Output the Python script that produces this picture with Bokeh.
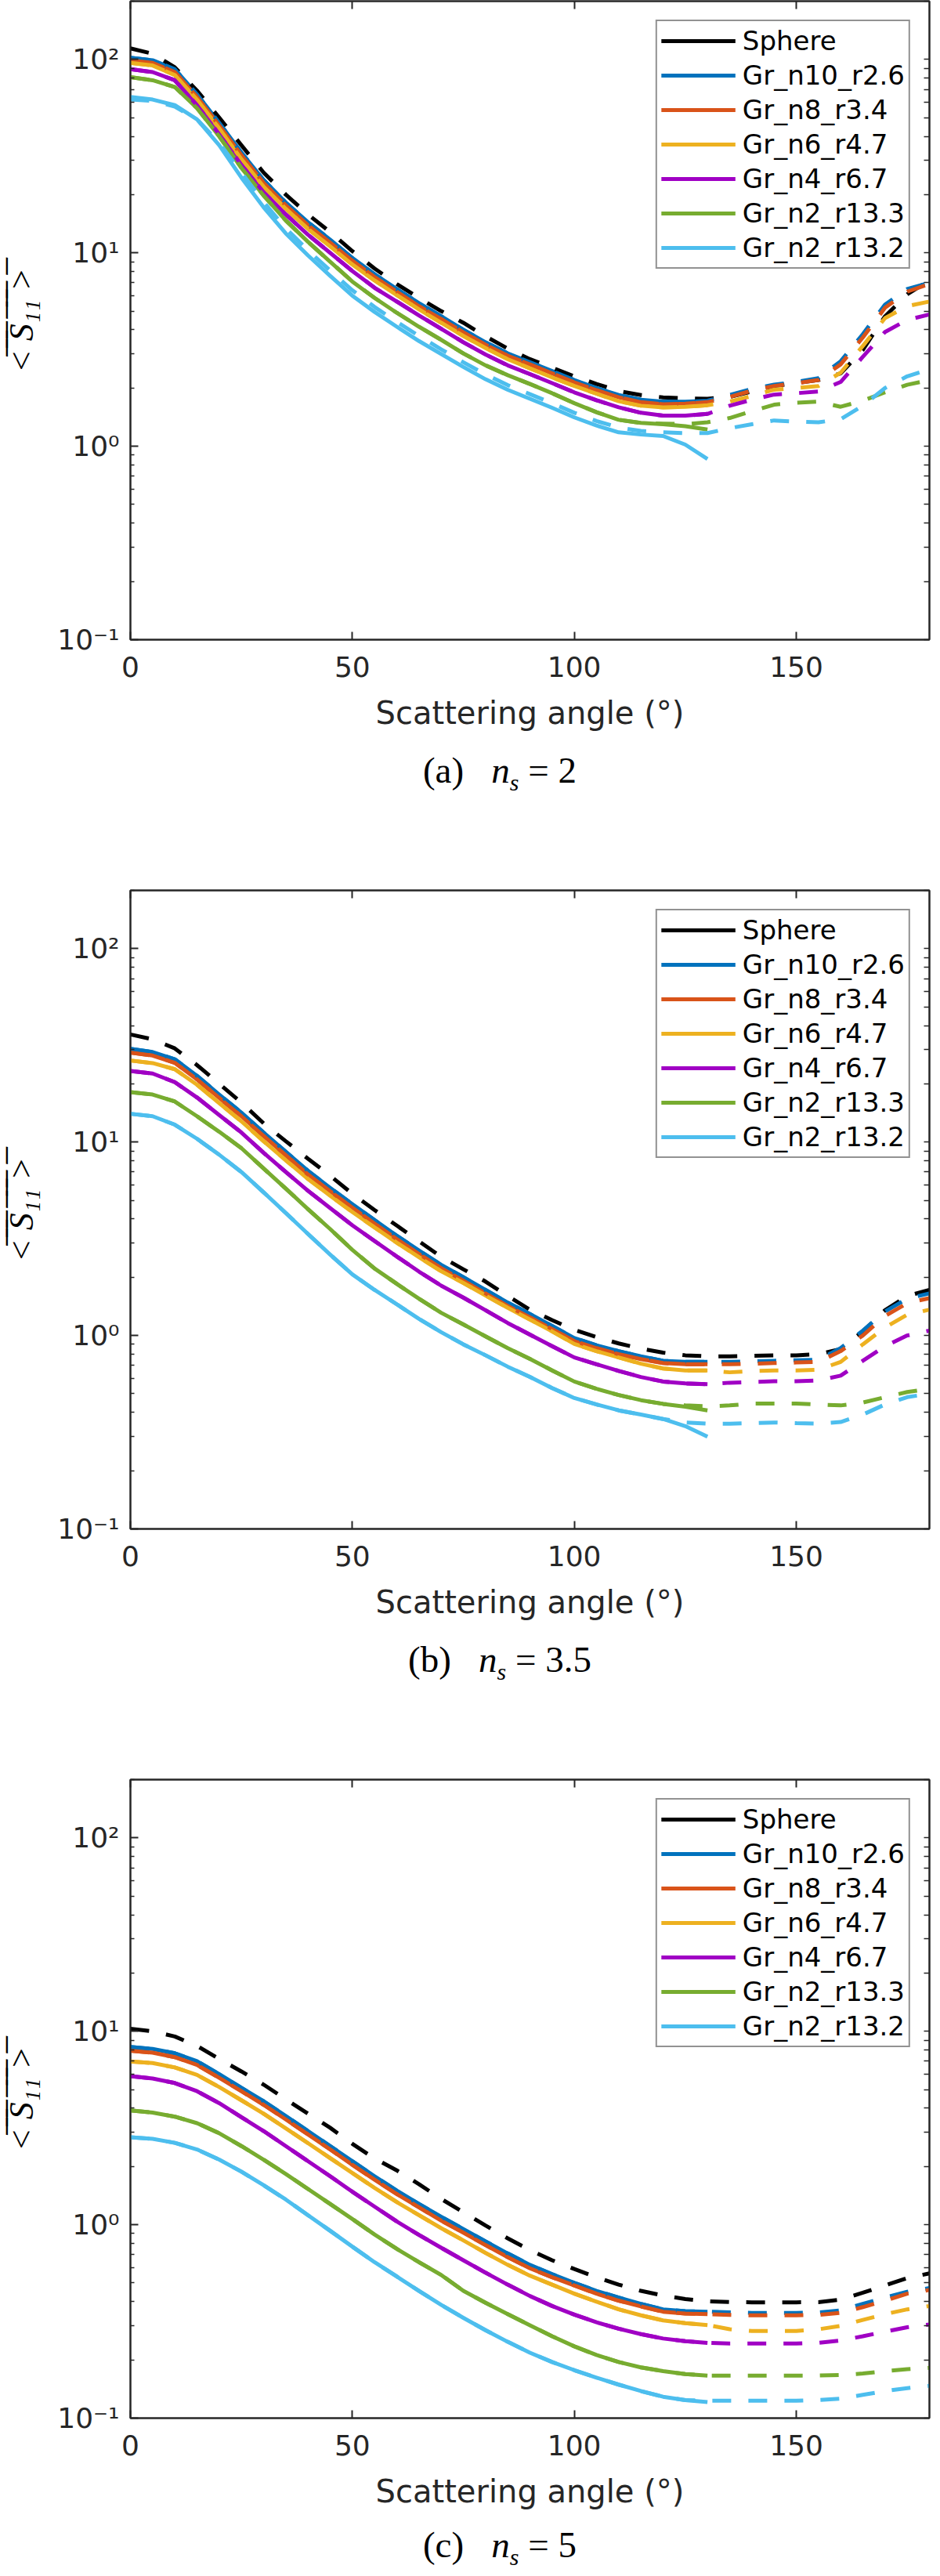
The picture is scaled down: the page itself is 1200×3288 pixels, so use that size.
from bokeh.plotting import figure
from bokeh.models import LinearAxis, LogAxis, FixedTicker, Legend, LegendItem, Range1d, Div
from bokeh.layouts import column
from bokeh.embed import file_html
from bokeh.resources import INLINE

# ---------------- data ----------------
ANGLES = [0, 5, 10, 15, 20, 25, 30, 35, 40, 45, 50, 55, 60, 65, 70, 75, 80, 85, 90,
          95, 100, 105, 110, 115, 120, 125, 130, 135, 140, 145, 150, 155, 160, 165,
          170, 175, 180]
SOLID_END = 130  # the solid curves stop here, the dashed ones go on to 180

SERIES = ["Sphere", "Gr_n10_r2.6", "Gr_n8_r3.4", "Gr_n6_r4.7", "Gr_n4_r6.7",
          "Gr_n2_r13.3", "Gr_n2_r13.2"]
COLORS = ["#000000", "#0072BD", "#D95319", "#EDB120", "#A000C4", "#77AC30", "#4DBEEE"]

X_TICKS = [0, 50, 100, 150]
Y_TICKS = [0.1, 1, 10, 100]
Y_TICK_LABELS = ["10\u207b\u00b9", "10\u2070", "10\u00b9", "10\u00b2"]
CAPTION_LETTERS = ["(a)", "(b)", "(c)"]
NS_VALUES = ["2", "3.5", "5"]

# panel (a)  n_s = 2   -- dashed curves 0..180
A_SPHERE = [114, 107, 91, 69, 50, 36, 26, 20, 15.8, 12.8, 10.2, 8.3, 6.9, 5.85, 5.0, 4.35, 3.7, 3.2, 2.82,
            2.55, 2.3, 2.1, 1.93, 1.84, 1.79, 1.77, 1.76, 1.80, 1.92, 2.05, 2.12, 2.2, 2.38, 3.15, 4.7, 6.1, 7.2]
A_N10 = [102, 99, 89, 66, 47, 33, 23.8, 18.2, 14.4, 11.7, 9.4, 7.75, 6.5, 5.5, 4.7, 4.0, 3.45, 3.02, 2.72,
         2.45, 2.2, 2.0, 1.84, 1.74, 1.70, 1.70, 1.72, 1.84, 1.98, 2.08, 2.15, 2.25, 2.75, 3.8, 5.4, 6.5, 7.0]
A_N8 = [99, 96, 86, 64, 45.5, 32, 23, 17.6, 13.9, 11.3, 9.1, 7.5, 6.3, 5.3, 4.55, 3.88, 3.35, 2.94, 2.65,
        2.38, 2.14, 1.95, 1.79, 1.69, 1.65, 1.66, 1.69, 1.80, 1.94, 2.05, 2.12, 2.2, 2.65, 3.65, 5.2, 6.3, 6.9]
A_N6 = [96, 93, 83, 62, 44, 30.5, 22, 16.9, 13.3, 10.8, 8.7, 7.2, 6.05, 5.1, 4.35, 3.72, 3.22, 2.82, 2.53,
        2.27, 2.05, 1.87, 1.71, 1.62, 1.59, 1.60, 1.63, 1.70, 1.82, 1.96, 2.0, 2.05, 2.4, 3.3, 4.6, 5.3, 5.6]
A_N4 = [89, 86, 78, 58, 41, 28.5, 20.6, 15.8, 12.4, 10.0, 8.05, 6.6, 5.6, 4.75, 4.05, 3.45, 2.98, 2.62, 2.36,
        2.12, 1.90, 1.73, 1.59, 1.49, 1.44, 1.44, 1.47, 1.62, 1.74, 1.85, 1.88, 1.92, 2.15, 2.9, 3.9, 4.5, 4.8]
A_N2A = [81, 78, 72, 56, 40, 27.5, 19.8, 14.7, 11.4, 9.0, 7.1, 5.85, 4.9, 4.15, 3.55, 3.02, 2.62, 2.33, 2.10,
         1.88, 1.67, 1.50, 1.37, 1.32, 1.31, 1.30, 1.33, 1.40, 1.52, 1.64, 1.68, 1.70, 1.60, 1.72, 1.90, 2.08, 2.2]
A_N2B = [62, 61, 57, 49, 37, 26, 18.3, 13.4, 10.3, 8.1, 6.4, 5.25, 4.4, 3.72, 3.17, 2.72, 2.35, 2.07, 1.86,
         1.67, 1.49, 1.35, 1.25, 1.20, 1.18, 1.17, 1.17, 1.24, 1.30, 1.36, 1.34, 1.33, 1.38, 1.62, 2.0, 2.3, 2.5]
# solid curves 0..130
A_N10_S = A_N10[:27]
A_N8_S = A_N8[:27]
A_N6_S = A_N6[:27]
A_N4_S = A_N4[:27]
A_N2A_S = [81, 78, 72, 56, 40, 27.5, 19.8, 14.7, 11.4, 9.0, 7.1, 5.85, 4.9, 4.15, 3.55, 3.02, 2.62, 2.33, 2.10,
           1.88, 1.67, 1.50, 1.37, 1.32, 1.30, 1.27, 1.22]
A_N2B_S = [64, 62, 58, 49, 36, 24.5, 17.2, 12.6, 9.7, 7.6, 6.0, 4.95, 4.15, 3.5, 3.0, 2.57, 2.22, 1.96, 1.76,
           1.58, 1.41, 1.28, 1.18, 1.15, 1.13, 1.02, 0.86]

# panel (b)  n_s = 3.5
B_SPHERE = [36, 34, 30.5, 25, 20, 16, 12.5, 10.1, 8.2, 6.7, 5.4, 4.45, 3.7, 3.07, 2.55, 2.2, 1.9, 1.6, 1.36,
            1.2, 1.07, 0.98, 0.91, 0.855, 0.815, 0.79, 0.78, 0.78, 0.785, 0.79, 0.79, 0.8, 0.85, 1.05, 1.35, 1.6, 1.72]
B_N10 = [30.3, 29.2, 26.8, 22, 17.6, 14.2, 11.2, 8.9, 7.1, 5.8, 4.77, 3.95, 3.28, 2.75, 2.32, 2.0, 1.72, 1.48, 1.29,
         1.12, 0.97, 0.89, 0.83, 0.78, 0.74, 0.73, 0.73, 0.73, 0.735, 0.74, 0.745, 0.75, 0.86, 1.06, 1.33, 1.55, 1.65]
B_N8 = [29.0, 28.0, 25.7, 21.1, 16.9, 13.6, 10.75, 8.55, 6.8, 5.57, 4.58, 3.79, 3.15, 2.64, 2.23, 1.92, 1.65, 1.42, 1.24,
        1.08, 0.935, 0.86, 0.80, 0.755, 0.72, 0.71, 0.71, 0.71, 0.715, 0.72, 0.725, 0.73, 0.83, 1.0, 1.26, 1.47, 1.56]
B_N6 = [26.4, 25.6, 23.8, 19.8, 15.9, 12.8, 10.1, 8.05, 6.45, 5.28, 4.35, 3.62, 3.02, 2.54, 2.15, 1.87, 1.61, 1.39, 1.21,
        1.05, 0.905, 0.83, 0.77, 0.715, 0.675, 0.66, 0.66, 0.645, 0.655, 0.66, 0.66, 0.665, 0.73, 0.9, 1.1, 1.28, 1.36]
B_N4 = [23.3, 22.6, 20.4, 17.0, 13.8, 11.2, 8.8, 7.0, 5.6, 4.56, 3.71, 3.08, 2.56, 2.14, 1.81, 1.57, 1.35, 1.16, 1.01,
        0.88, 0.77, 0.71, 0.656, 0.61, 0.578, 0.565, 0.56, 0.57, 0.575, 0.58, 0.58, 0.585, 0.62, 0.74, 0.88, 1.0, 1.06]
B_N2A = [18.1, 17.6, 16.2, 13.6, 11.3, 9.3, 7.3, 5.75, 4.5, 3.55, 2.77, 2.22, 1.85, 1.55, 1.31, 1.14, 0.99, 0.86, 0.757,
         0.66, 0.578, 0.53, 0.492, 0.463, 0.443, 0.435, 0.43, 0.435, 0.445, 0.445, 0.445, 0.44, 0.435, 0.45, 0.48, 0.51, 0.53]
B_N2B = [14.0, 13.6, 12.3, 10.4, 8.6, 7.0, 5.5, 4.3, 3.35, 2.62, 2.07, 1.72, 1.45, 1.22, 1.04, 0.9, 0.79, 0.69, 0.61,
         0.535, 0.475, 0.44, 0.41, 0.39, 0.37, 0.355, 0.35, 0.35, 0.352, 0.355, 0.352, 0.35, 0.357, 0.39, 0.44, 0.48, 0.5]
B_N10_S = B_N10[:27]
B_N8_S = B_N8[:27]
B_N6_S = B_N6[:27]
B_N4_S = B_N4[:27]
B_N2A_S = [18.1, 17.6, 16.2, 13.6, 11.3, 9.3, 7.3, 5.75, 4.5, 3.55, 2.77, 2.22, 1.85, 1.55, 1.31, 1.14, 0.99, 0.86, 0.757,
           0.66, 0.578, 0.53, 0.492, 0.463, 0.443, 0.428, 0.41]
B_N2B_S = [14.0, 13.6, 12.3, 10.4, 8.6, 7.0, 5.5, 4.3, 3.35, 2.62, 2.07, 1.72, 1.45, 1.22, 1.04, 0.9, 0.79, 0.69, 0.61,
           0.535, 0.475, 0.44, 0.41, 0.39, 0.37, 0.34, 0.30]

# panel (c)  n_s = 5
C_SPHERE = [10.3, 10.0, 9.4, 8.4, 7.2, 6.2, 5.3, 4.45, 3.75, 3.17, 2.62, 2.2, 1.91, 1.62, 1.36, 1.16, 0.99, 0.85, 0.74,
            0.655, 0.59, 0.535, 0.49, 0.455, 0.43, 0.413, 0.402, 0.398, 0.397, 0.397, 0.397, 0.398, 0.41, 0.445, 0.485, 0.53, 0.56]
C_N10 = [8.3, 8.1, 7.7, 7.0, 6.0, 5.1, 4.35, 3.65, 3.05, 2.55, 2.13, 1.78, 1.5, 1.28, 1.1, 0.95, 0.82, 0.71, 0.62,
         0.555, 0.50, 0.455, 0.42, 0.39, 0.365, 0.357, 0.355, 0.352, 0.35, 0.35, 0.35, 0.352, 0.36, 0.39, 0.42, 0.45, 0.47]
C_N8 = [7.93, 7.75, 7.35, 6.7, 5.75, 4.9, 4.17, 3.5, 2.93, 2.45, 2.04, 1.71, 1.44, 1.23, 1.05, 0.91, 0.785, 0.68, 0.595,
        0.535, 0.485, 0.44, 0.405, 0.378, 0.355, 0.347, 0.345, 0.342, 0.34, 0.34, 0.34, 0.342, 0.35, 0.375, 0.405, 0.44, 0.46]
C_N6 = [6.98, 6.85, 6.5, 5.95, 5.15, 4.4, 3.75, 3.15, 2.64, 2.21, 1.85, 1.55, 1.31, 1.12, 0.96, 0.83, 0.715, 0.62, 0.545,
        0.49, 0.44, 0.4, 0.365, 0.34, 0.32, 0.31, 0.303, 0.288, 0.282, 0.282, 0.282, 0.288, 0.3, 0.322, 0.345, 0.365, 0.38]
C_N4 = [5.86, 5.7, 5.4, 4.9, 4.25, 3.6, 3.05, 2.55, 2.13, 1.78, 1.48, 1.24, 1.04, 0.885, 0.76, 0.655, 0.565, 0.49, 0.428,
        0.38, 0.343, 0.313, 0.29, 0.272, 0.258, 0.25, 0.245, 0.243, 0.243, 0.243, 0.243, 0.245, 0.252, 0.265, 0.28, 0.295, 0.305]
C_N2A = [3.9, 3.8, 3.62, 3.35, 2.97, 2.55, 2.17, 1.83, 1.53, 1.28, 1.07, 0.89, 0.75, 0.64, 0.55, 0.455, 0.395, 0.345, 0.302,
         0.265, 0.235, 0.212, 0.195, 0.183, 0.175, 0.169, 0.166, 0.166, 0.166, 0.166, 0.166, 0.166, 0.167, 0.17, 0.175, 0.179, 0.182]
C_N2B = [2.83, 2.78, 2.65, 2.45, 2.17, 1.88, 1.6, 1.35, 1.12, 0.93, 0.77, 0.64, 0.54, 0.455, 0.385, 0.33, 0.285, 0.248, 0.218,
         0.195, 0.177, 0.162, 0.149, 0.138, 0.129, 0.124, 0.123, 0.123, 0.123, 0.123, 0.123, 0.124, 0.126, 0.132, 0.138, 0.143, 0.147]
C_N10_S = C_N10[:27]
C_N8_S = C_N8[:27]
C_N6_S = C_N6[:27]
C_N4_S = C_N4[:27]
C_N2A_S = C_N2A[:27]
C_N2B_S = [2.83, 2.78, 2.65, 2.45, 2.17, 1.88, 1.6, 1.35, 1.12, 0.93, 0.77, 0.64, 0.54, 0.455, 0.385, 0.33, 0.285, 0.248, 0.218,
           0.195, 0.177, 0.162, 0.149, 0.138, 0.129, 0.124, 0.121]

PANELS = [
    (A_SPHERE, [A_N10, A_N8, A_N6, A_N4, A_N2A, A_N2B], [A_N10_S, A_N8_S, A_N6_S, A_N4_S, A_N2A_S, A_N2B_S]),
    (B_SPHERE, [B_N10, B_N8, B_N6, B_N4, B_N2A, B_N2B], [B_N10_S, B_N8_S, B_N6_S, B_N4_S, B_N2A_S, B_N2B_S]),
    (C_SPHERE, [C_N10, C_N8, C_N6, C_N4, C_N2A, C_N2B], [C_N10_S, C_N8_S, C_N6_S, C_N4_S, C_N2A_S, C_N2B_S]),
]

# ---------------- styling ----------------
AX = "#262626"
Y_MINOR = [m * 10.0 ** e for e in (-1, 0, 1, 2) for m in range(2, 10) if m * 10.0 ** e <= 200]
Y_LABEL = "".join(ch + "\u0305" for ch in "< S\u2081\u2081 >")
LW = 5
DASH = "24 22"
FIG_H = 950
CAPTION_H = [185, 185, 52]
CAPTION_PAD = [10, 10, 6]
CAPTION_LH = [47, 47, 44]


def style_axis(ax):
    ax.axis_line_color = AX
    ax.axis_line_width = 2
    ax.major_tick_line_color = AX
    ax.major_tick_line_width = 2
    ax.minor_tick_line_color = AX
    ax.minor_tick_line_width = 1.5
    ax.major_tick_in = 10
    ax.major_tick_out = 0
    ax.minor_tick_in = 5
    ax.minor_tick_out = 0
    ax.major_label_text_font = "DejaVu Sans"
    ax.major_label_text_color = AX
    ax.major_label_text_font_size = "36px"


def make_panel(sphere, dashed, solid):
    p = figure(width=1192, height=FIG_H, x_range=Range1d(0, 180), y_range=Range1d(0.1, 200),
               y_axis_type="log", output_backend="svg", toolbar_location=None,
               min_border_left=150, min_border_right=6, min_border_top=1, min_border_bottom=134,
               background_fill_color="white", border_fill_color="white", margin=0)
    p.xgrid.visible = False
    p.ygrid.visible = False
    p.outline_line_color = AX
    p.outline_line_width = 2

    n_solid = len([a for a in ANGLES if a <= SOLID_END])
    solid_rs = []
    for vals, col in zip(solid, COLORS[1:]):
        solid_rs.append(p.line(ANGLES[:n_solid], vals, line_color=col, line_width=LW, line_join="round"))
    for vals, col in zip([sphere] + dashed, COLORS):
        p.line(ANGLES, vals, line_color=col, line_width=LW, line_dash=DASH)
    # legend key for the sphere (solid black swatch, single point so nothing is drawn)
    sphere_key = p.line(ANGLES[:1], sphere[:1], line_color=COLORS[0], line_width=LW)

    items = [LegendItem(label=SERIES[0], renderers=[sphere_key])]
    items += [LegendItem(label=s, renderers=[r]) for s, r in zip(SERIES[1:], solid_rs)]
    legend = Legend(items=items, location="top_right", margin=24, padding=5, spacing=4,
                    glyph_width=95, glyph_height=40, label_height=40, label_standoff=9,
                    label_text_font="DejaVu Sans", label_text_font_size="34px",
                    label_text_color="#000000", border_line_color=AX, border_line_width=2,
                    background_fill_color="white", background_fill_alpha=1.0)
    p.add_layout(legend)

    xa = p.xaxis[0]
    xa.ticker = FixedTicker(ticks=X_TICKS)
    style_axis(xa)
    xa.major_label_standoff = 21
    xa.axis_label = "Scattering angle (\u00b0)"
    xa.axis_label_text_font = "DejaVu Sans"
    xa.axis_label_text_font_size = "40px"
    xa.axis_label_text_font_style = "normal"
    xa.axis_label_text_color = AX
    xa.axis_label_standoff = 20

    ya = p.yaxis[0]
    ya.ticker = FixedTicker(ticks=Y_TICKS, minor_ticks=Y_MINOR)
    style_axis(ya)
    ya.major_label_standoff = 14
    ya.major_label_overrides = dict(zip(Y_TICKS, Y_TICK_LABELS))
    ya.axis_label = Y_LABEL
    ya.axis_label_text_font = "Liberation Serif"
    ya.axis_label_text_font_size = "44px"
    ya.axis_label_text_font_style = "italic"
    ya.axis_label_text_color = "#000000"
    ya.axis_label_standoff = 18

    # mirrored tick marks on the top and right edges (tick marks only, no labels)
    top = LinearAxis(ticker=FixedTicker(ticks=[], minor_ticks=X_TICKS))
    style_axis(top)
    top.minor_tick_in = 10
    top.minor_tick_line_width = 2
    p.add_layout(top, "above")
    right = LogAxis(ticker=FixedTicker(ticks=[], minor_ticks=Y_TICKS + Y_MINOR))
    style_axis(right)
    right.minor_tick_in = 7
    p.add_layout(right, "right")
    return p


def make_caption(i):
    html = ('<div style="font-family:\'Liberation Serif\',\'Times New Roman\',serif;font-size:47px;'
            f'line-height:{CAPTION_LH[i]}px;color:#000;text-align:center;box-sizing:border-box;width:1192px;'
            f'padding-left:84px;padding-top:{CAPTION_PAD[i]}px;white-space:nowrap;">'
            f'{CAPTION_LETTERS[i]}&nbsp;&nbsp;&nbsp;<i>n<sub style="font-size:30px;line-height:0">s</sub></i>'
            f'&nbsp;=&nbsp;{NS_VALUES[i]}</div>')
    return Div(text=html, width=1192, height=CAPTION_H[i], margin=0)


children = []
for i, (sph, dsh, sol) in enumerate(PANELS):
    children.append(make_panel(sph, dsh, sol))
    children.append(make_caption(i))

layout = column(children=children, spacing=0, margin=0)
open("out.html", "w").write(file_html(layout, INLINE, title="S11 vs scattering angle"))
